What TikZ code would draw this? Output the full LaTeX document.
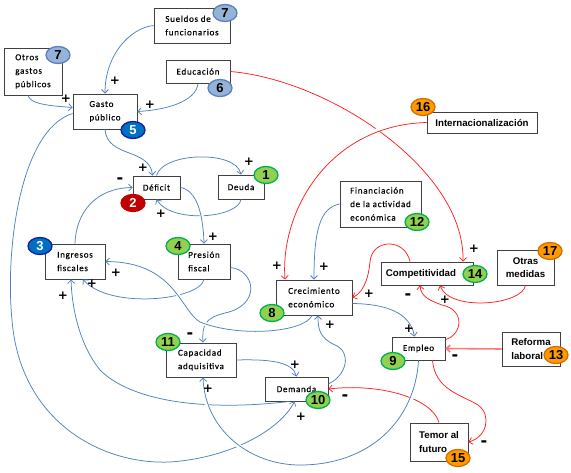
\documentclass[tikz,border=0pt]{standalone}
\usepackage{fontspec}
\setmainfont{Carlito}
\newfontfamily\varfont[LetterSpace=8,FakeBold=0.4]{Carlito}
\newfontfamily\strongfont{Liberation Sans}
\newfontfamily\numfont{DejaVu Sans}
\usetikzlibrary{shapes.geometric,arrows.meta}
\definecolor{linkblue}{HTML}{4F81BD}
\definecolor{linkred}{HTML}{FF2020}
\definecolor{steelfill}{HTML}{95B3D7}
\definecolor{steeldraw}{HTML}{5B7FBF}
\definecolor{navyfill}{HTML}{0070C0}
\definecolor{navydraw}{HTML}{1020A0}
\definecolor{wine}{HTML}{C00000}
\definecolor{leaf}{HTML}{92D050}
\definecolor{leafdraw}{HTML}{00B050}
\definecolor{amberfill}{HTML}{FF9A00}
\definecolor{amberdraw}{HTML}{D86C00}

\begin{document}
\begin{tikzpicture}[x=1pt, y=-1pt,
                    >={Straight Barb[length=3.5pt,width=7pt]},
                    every node/.style={inner sep=0pt},
                    term/.style={rectangle, draw=black!75, line width=0.9pt, fill=white,
                                 align=left, font=\varfont\fontsize{9}{13.5}\selectfont},
                    strongterm/.style={term, font=\strongfont\bfseries\fontsize{9.7}{13.5}\selectfont},
                    badge/.style={ellipse, line width=1.3pt, minimum width=24pt, minimum height=17pt,
                                  font=\strongfont\bfseries\fontsize{13}{13}\selectfont},
                    steelbadge/.style={badge, fill=steelfill, draw=steeldraw},
                    navybadge/.style={badge, fill=navyfill, draw=navydraw, text=white},
                    winebadge/.style={badge, fill=wine, draw=wine, text=white},
                    leafbadge/.style={badge, fill=leaf, draw=leafdraw},
                    amberbadge/.style={badge, fill=amberfill, draw=amberdraw},
                    sign/.style={font=\numfont\bfseries\fontsize{12}{12}\selectfont},
                    minus/.style={font=\numfont\bfseries\fontsize{16}{16}\selectfont},
                    link/.style={->, draw=linkblue, line width=0.75pt},
                    redlink/.style={->, draw=linkred, line width=0.75pt},
                    bridge/.style={preaction={draw=white, -, line width=4pt, shorten <=9pt, shorten >=9pt}}]
  \useasboundingbox (0,0) rectangle (571,472);

  \node[term, minimum width=76pt, minimum height=35pt](sueldos) at (192,25.5) {Sueldos de\\funcionarios};
  \node[term, minimum width=58pt, minimum height=47pt](otros) at (33,71.5) {Otros\\gastos\\públicos};
  \node[term, minimum width=64pt, minimum height=23pt](educacion) at (198,71.5) {Educación};
  \node[term, minimum width=64pt, minimum height=35pt](gasto) at (105,111.5) {Gasto\\público\hspace{6pt}};
  \node[strongterm, minimum width=110pt, minimum height=21pt](intl) at (482,122.5) {Internacionalización};
  \node[term, minimum width=47pt, minimum height=23pt](deficit) at (156.5,187.5) {Déficit};
  \node[term, minimum width=46pt, minimum height=24pt](deuda) at (241,187) {Deuda};
  \node[term, minimum width=81pt, minimum height=46pt](financ) at (380.5,204) {Financiación\\de la actividad\\económica};
  \node[term, minimum width=60pt, minimum height=35pt](ingresos) at (75,261.5) {Ingresos\\fiscales};
  \node[term, minimum width=52pt, minimum height=35pt](presion) at (204,261.5) {Presión\\fiscal};
  \node[strongterm, minimum width=92pt, minimum height=23pt](compet) at (427,273.5) {Competitividad\hspace{12pt}};
  \node[strongterm, minimum width=57pt, minimum height=35pt, align=center](otrasmed) at (525.5,267.5) {Otras\\medidas};
  \node[term, minimum width=76pt, minimum height=35pt](crec) at (314,297.5) {Crecimiento\\económico};
  \node[term, minimum width=70pt, minimum height=34pt](capac) at (201,360) {Capacidad\\adquisitiva};
  \node[term, minimum width=53pt, minimum height=23pt](empleo) at (418.5,348.5) {Empleo};
  \node[strongterm, minimum width=58pt, minimum height=34pt](reforma) at (531,349) {Reforma\\laboral\hspace{10pt}};
  \node[term, minimum width=63pt, minimum height=24pt](demanda) at (296.5,389) {Demanda};
  \node[strongterm, minimum width=58pt, minimum height=38pt](temor) at (439,442) {Temor al\\futuro};

  \draw[link] (sueldos.west) .. controls (130,28) and (105,55) .. (gasto.north)
    node[sign](sg1) at (115,81) {+};
  \draw[link] ([xshift=-5pt]otros.south) .. controls (30,105) and (55,106) .. ([yshift=4pt]gasto.west)
    node[sign](sg2) at (66,99) {+};
  \draw[link] (educacion.south) .. controls (196,102) and (165,110) .. (gasto.east)
    node[sign](sg3) at (150,105) {+};
  \draw[link] (gasto.south) .. controls (107,158) and (150,148) .. ([xshift=-4pt]deficit.north)
    node[sign](sg4) at (143,168) {+};
  \draw[link] (deficit.north) .. controls (163,152) and (236,150) .. (deuda.north)
    node[sign](sg5) at (249,162) {+};
  \draw[link] (deuda.south) .. controls (238,218) and (172,224) .. (deficit.south)
    node[sign](sg6) at (161,214) {+};
  \draw[link] (ingresos.north) .. controls (76,212) and (96,188) .. (deficit.west)
    node[minus](sg7) at (120,181) {-};
  \draw[link] (presion.south) .. controls (200,300) and (110,310) .. ([xshift=8pt]ingresos.south)
    node[sign](sg8) at (92,284) {+};
  \draw[link] ([yshift=-6pt]presion.east) .. controls (255,270) and (262,305) .. (225,313)
    .. controls (205,318) and (202,325) .. ([xshift=2pt]capac.north)
    node[minus](sg9) at (190,336) {-};
  \draw[link] (capac.east) .. controls (270,359) and (293,362) .. (demanda.north)
    node[sign](sg10) at (295,365) {+};
  \draw[link] ([yshift=5pt]demanda.east) .. controls (347,375) and (352,352) .. (335,345)
    .. controls (320,338) and (318,330) .. ([xshift=4pt]crec.south)
    node[sign](sg11) at (330,325) {+};
  \draw[link] ([yshift=-6pt]crec.east) .. controls (385,304) and (410,312) .. ([xshift=-4pt]empleo.north)
    node[sign](sg12) at (409,329) {+};
  \draw[link] (financ.west) .. controls (320,208) and (314,230) .. (crec.north)
    node[sign](sg13) at (324,267) {+};
  \draw[redlink] (educacion.east) .. controls (330,80) and (465,170) .. ([xshift=36pt]compet.north)
    node[sign](sg14) at (474,249) {+};
  \draw[redlink] ([xshift=-17pt]compet.north) .. controls (405,238) and (372,238) .. (370,262)
    .. controls (368,282) and (362,293) .. (crec.east)
    node[sign](sg15) at (369,294) {+};
  \draw[redlink] (otrasmed.south) .. controls (522,305) and (450,312) .. ([xshift=13pt]compet.south)
    node[sign](sg16) at (445,300) {+};
  \draw[redlink] ([yshift=-3pt]empleo.north east) .. controls (462,335) and (466,310) .. (442,305)
    .. controls (428,300) and (421,296) .. ([xshift=-7pt]compet.south)
    node[minus](sg17) at (408,297) {-};
  \draw[redlink, draw=linkred!60, line width=1.6pt] (reforma.west) -- (empleo.east)
    node[minus](sg18) at (455,358) {-};
  \draw[redlink] ([xshift=14pt]empleo.south) .. controls (435,390) and (462,395) .. (478,405)
    .. controls (492,415) and (487,437) .. (temor.east)
    node[minus](sg19) at (484,444) {-};
  \draw[redlink] (temor.north) .. controls (432,398) and (380,383) .. (demanda.east)
    node[minus](sg20) at (345,398) {-};
  \draw[link] ([yshift=-2pt]gasto.west) .. controls (20,130) and (5,250) .. (12,320)
    .. controls (20,420) and (100,465) .. (170,462)
    .. controls (230,458) and (280,430) .. ([xshift=-2pt]demanda.south)
    node[sign](sg21) at (301,417) {+};
  \draw[link] ([xshift=-7pt]demanda.south) .. controls (200,412) and (130,400) .. (100,370)
    .. controls (80,345) and (72,310) .. ([xshift=-4pt]ingresos.south)
    node[sign](sg22) at (63,296) {+};

  \draw[link, bridge] (deficit.east) .. controls (196,190) and (203,212) .. (presion.north)
    node[sign](sg23) at (213,237) {+};
  \draw[link, bridge] ([xshift=-2pt]crec.south) .. controls (305,332) and (240,338) .. (200,322)
    .. controls (180,310) and (175,262) .. (ingresos.east)
    node[sign](sg24) at (116,273) {+};
  \draw[redlink, bridge] (intl.west) .. controls (330,125) and (280,210) .. ([xshift=-29pt]crec.north)
    node[sign](sg25) at (277,266) {+};
  \draw[link, bridge] (empleo.south) .. controls (415,420) and (370,465) .. (300,465)
    .. controls (250,465) and (205,430) .. ([xshift=2pt]capac.south)
    node[sign](sg26) at (208,389) {+};

  \node[steelbadge](b7a) at (225,13) {7};
  \node[steelbadge](b7b) at (58,55) {7};
  \node[steelbadge](b6) at (220,88) {6};
  \node[navybadge](b5) at (133,130) {5};
  \node[amberbadge](b16) at (423,107) {16};
  \node[winebadge](b2) at (133,203) {2};
  \node[leafbadge](b1) at (266,175) {1};
  \node[leafbadge](b12) at (417,222) {12};
  \node[navybadge](b3) at (40,246) {3};
  \node[leafbadge](b4) at (178,246) {4};
  \node[leafbadge](b14) at (475,274) {14};
  \node[amberbadge](b17) at (550,251) {17};
  \node[leafbadge](b8) at (272,313) {8};
  \node[leafbadge](b11) at (168,342) {11};
  \node[leafbadge](b9) at (393,361) {9};
  \node[amberbadge](b13) at (556,355) {13};
  \node[leafbadge](b10) at (318,400) {10};
  \node[amberbadge](b15) at (458,458) {15};
\end{tikzpicture}
\end{document}
